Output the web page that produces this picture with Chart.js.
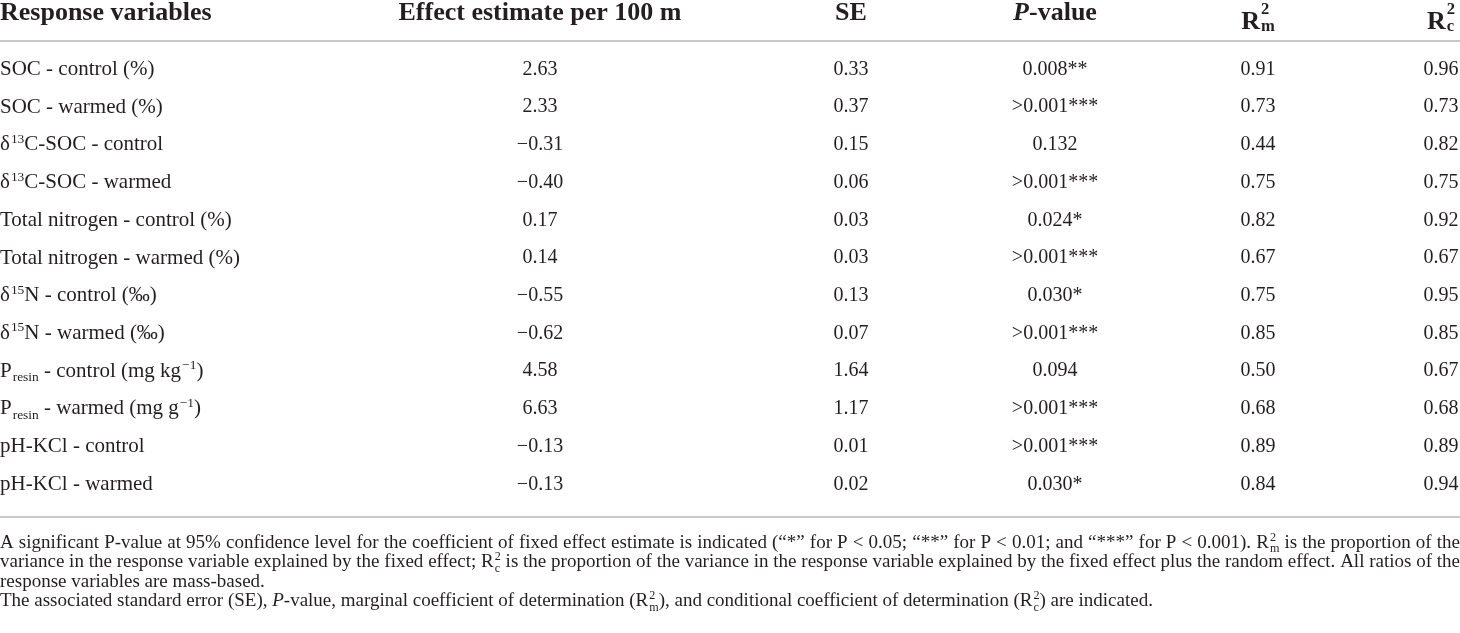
<!DOCTYPE html>
<html>
<head>
<meta charset="utf-8">
<script src="https://cdn.jsdelivr.net/npm/chart.js@4/dist/chart.umd.min.js"></script>
<style>
  html, body { margin: 0; padding: 0; background: #fff; }
  #wrap { width: 1460px; height: 633px; position: relative; }
</style>
</head>
<body>
<div id="wrap"><canvas id="tableChart"></canvas></div>
<script>
// table content
const headers = ['Response variables', 'Effect estimate per 100 m', 'SE', '*{P}-value', 'R~{m|2}', 'R~{c|2}'];

const rowLabels = [
    'SOC - control (%)',
    'SOC - warmed (%)',
    'δ^{13}C-SOC - control',
    'δ^{13}C-SOC - warmed',
    'Total nitrogen - control (%)',
    'Total nitrogen - warmed (%)',
    'δ^{15}N - control (‰)',
    'δ^{15}N - warmed (‰)',
    'P_{resin} - control (mg kg^{−1})',
    'P_{resin} - warmed (mg g^{−1})',
    'pH-KCl - control',
    'pH-KCl - warmed'
];
const effectEstimates = [2.63, 2.33, -0.31, -0.40, 0.17, 0.14, -0.55, -0.62, 4.58, 6.63, -0.13, -0.13];
const standardErrors = [0.33, 0.37, 0.15, 0.06, 0.03, 0.03, 0.13, 0.07, 1.64, 1.17, 0.01, 0.02];
const pValues = ['0.008**', '>0.001***', '0.132', '>0.001***', '0.024*', '>0.001***', '0.030*', '>0.001***', '0.094', '>0.001***', '>0.001***', '0.030*'];
const r2Marginal = [0.91, 0.73, 0.44, 0.75, 0.82, 0.67, 0.75, 0.85, 0.50, 0.68, 0.89, 0.84];
const r2Conditional = [0.96, 0.73, 0.82, 0.75, 0.92, 0.67, 0.95, 0.85, 0.67, 0.68, 0.89, 0.94];

const footnotes = [
    'A significant P-value at 95% confidence level for the coefficient of fixed effect estimate is indicated (“*” for P < 0.05; “**” for P < 0.01; and “***” for P < 0.001). R~{m|2} is the proportion of the',
    'variance in the response variable explained by the fixed effect; R~{c|2} is the proportion of the variance in the response variable explained by the fixed effect plus the random effect. All ratios of the',
    'response variables are mass-based.',
    'The associated standard error (SE), *{P}-value, marginal coefficient of determination (R~{m|2}), and conditional coefficient of determination (R~{c|2}) are indicated.'
];

// layout
const FONT = '"Liberation Serif", "DejaVu Serif", serif';
const INK = '#231f20';
const columnX = [0, 540, 851, 1055, 1258, 1441];
const columnAlign = ['left', 'center', 'center', 'center', 'center', 'center'];
const cellSize = [21, 20, 20, 20, 20, 20];
const headerShift = [0, 0, 0, 0, 9, 9];
const headerRow = -1.5;
const headerRule = -0.72;
const bottomRule = 11.9;

function fmt(v) {
    return v.toFixed(2).replace('-', '−');
}

// tiny markup: ^{sup} _{sub} ~{sub|sup} *{italic}
function parseRich(s) {
    const parts = s.split(/(\^\{[^}]*\}|_\{[^}]*\}|~\{[^}]*\}|\*\{[^}]*\})/);
    const segs = [];
    parts.forEach(p => {
        if (!p) return;
        const inner = p.length > 3 ? p.slice(2, -1) : '';
        if (p.startsWith('^{')) segs.push({ kind: 'sup', text: inner });
        else if (p.startsWith('_{')) segs.push({ kind: 'sub', text: inner });
        else if (p.startsWith('~{')) {
            const [a, b] = inner.split('|');
            segs.push({ kind: 'stack', sub: a, sup: b });
        } else if (p.startsWith('*{')) segs.push({ kind: 'it', text: inner });
        else segs.push({ kind: 'n', text: p });
    });
    return segs;
}

function richText(ctx, s, x, y, opts) {
    const size = opts.size, weight = opts.weight || 'normal';
    const small = size * 0.64;
    const supUp = opts.supUp || 0.38, subDown = opts.subDown || 0.22;
    const segs = parseRich(s);
    const base = (st, sz) => `${st} ${weight} ${sz}px ${FONT}`;
    let extra = 0;

    const run = (draw) => {
        let cx = x0;
        let spaces = 0;
        segs.forEach(sg => {
            if (sg.kind === 'n' || sg.kind === 'it') {
                ctx.font = base(sg.kind === 'it' ? 'italic' : 'normal', size);
                const words = sg.text.split(' ');
                words.forEach((w, i) => {
                    if (draw) ctx.fillText(w, cx, y);
                    cx += ctx.measureText(w).width;
                    if (i < words.length - 1) {
                        cx += ctx.measureText(' ').width + extra;
                        spaces++;
                    }
                });
            } else if (sg.kind === 'sup') {
                ctx.font = base('normal', small);
                if (draw) ctx.fillText(sg.text, cx + 1, y - size * 0.36);
                cx += ctx.measureText(sg.text).width + 1;
            } else if (sg.kind === 'sub') {
                ctx.font = base('normal', small);
                if (draw) ctx.fillText(sg.text, cx + 1, y + size * 0.2);
                cx += ctx.measureText(sg.text).width + 1;
            } else if (sg.kind === 'stack') {
                ctx.font = base('normal', small);
                if (draw) {
                    ctx.fillText(sg.sub, cx + 1, y + size * subDown);
                    ctx.fillText(sg.sup, cx + 1, y - size * supUp);
                }
                cx += Math.max(ctx.measureText(sg.sub).width, ctx.measureText(sg.sup).width) + 1;
            }
        });
        return { width: cx - x0, spaces: spaces };
    };

    let x0 = 0;
    const m = run(false);
    if (opts.justify && m.spaces) extra = (opts.justify - m.width) / m.spaces;
    const w = opts.justify ? opts.justify : m.width;
    if (opts.align === 'center') x0 = x - w / 2;
    else if (opts.align === 'right') x0 = x - w;
    else x0 = x;
    run(true);
}

const tablePlugin = {
    id: 'tableText',
    afterDatasetsDraw(chart) {
        const ctx = chart.ctx;
        const xs = chart.scales.x, ys = chart.scales.y;
        ctx.save();
        ctx.fillStyle = INK;
        ctx.textBaseline = 'alphabetic';
        ctx.textAlign = 'left';

        // header
        headers.forEach((h, c) => {
            const py = ys.getPixelForValue(headerRow);
            richText(ctx, h, xs.getPixelForValue(columnX[c]), py + 26 * 0.33 + headerShift[c],
                { size: 26, weight: 'bold', align: columnAlign[c], supUp: 0.58, subDown: 0.08 });
        });

        // rules
        ctx.strokeStyle = '#c9c9c9';
        ctx.lineWidth = 2;
        [headerRule, bottomRule].forEach(v => {
            const py = Math.round(ys.getPixelForValue(v));
            ctx.beginPath();
            ctx.moveTo(chart.chartArea.left, py);
            ctx.lineTo(chart.chartArea.right, py);
            ctx.stroke();
        });

        // cells
        chart.data.datasets.forEach((ds, c) => {
            const meta = chart.getDatasetMeta(c);
            const sz = cellSize[c];
            meta.data.forEach((pt, i) => {
                richText(ctx, ds.cellText[i], pt.x, pt.y + sz * 0.33,
                    { size: sz, align: columnAlign[c] });
            });
        });

        // footnotes
        const fy = ys.getPixelForValue(bottomRule);
        footnotes.forEach((f, i) => {
            richText(ctx, f, chart.chartArea.left, fy + 31 + i * 19.5,
                { size: 19, align: 'left', justify: i < 2 ? chart.chartArea.right - chart.chartArea.left : 0 });
        });
        ctx.restore();
    }
};

const columnTexts = [
    rowLabels,
    effectEstimates.map(fmt),
    standardErrors.map(fmt),
    pValues,
    r2Marginal.map(fmt),
    r2Conditional.map(fmt)
];

const datasets = columnTexts.map((texts, c) => ({
    label: headers[c],
    data: texts.map((t, i) => ({ x: columnX[c], y: i })),
    cellText: texts,
    pointRadius: 0,
    pointHoverRadius: 0,
    showLine: false
}));

const ctx = document.getElementById('tableChart').getContext('2d');
const tableChart = new Chart(ctx, {
    type: 'scatter',
    data: { datasets: datasets },
    options: {
        responsive: true,
        maintainAspectRatio: false,
        animation: false,
        events: [],
        layout: { padding: 0 },
        plugins: {
            legend: { display: false },
            tooltip: { enabled: false }
        },
        scales: {
            x: { type: 'linear', display: false, min: 0, max: 1460 },
            y: { type: 'linear', display: false, reverse: true, min: -1.802, max: 14.975 }
        }
    },
    plugins: [tablePlugin]
});
</script>
</body>
</html>
